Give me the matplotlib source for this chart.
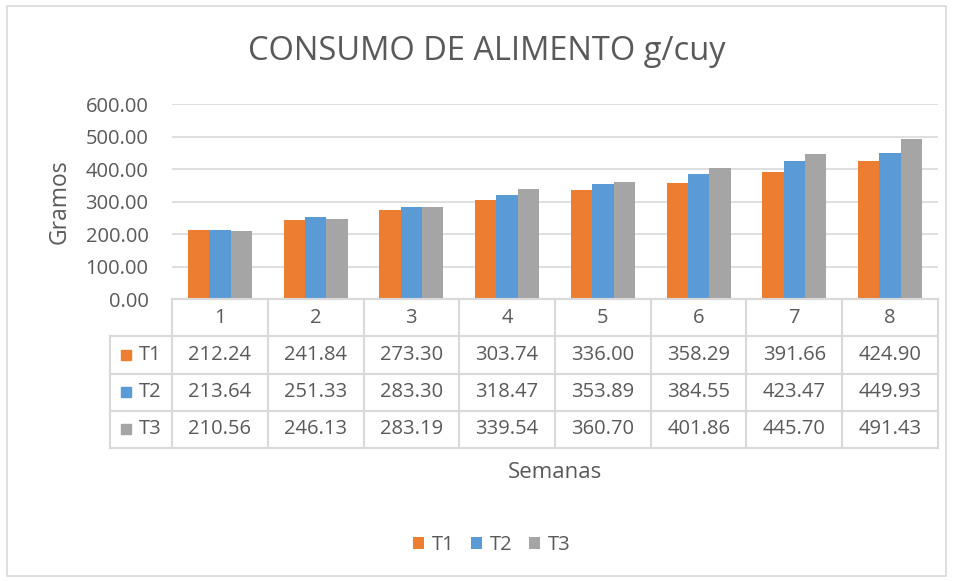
import matplotlib
matplotlib.use("Agg")
import matplotlib.pyplot as plt
from matplotlib.patches import Rectangle
import numpy as np

plt.rcParams['font.family'] = ['Open Sans', 'DejaVu Sans']

semanas = ["1", "2", "3", "4", "5", "6", "7", "8"]
series_names = ["T1", "T2", "T3"]
t1 = [212.24, 241.84, 273.30, 303.74, 336.00, 358.29, 391.66, 424.90]
t2 = [213.64, 251.33, 283.30, 318.47, 353.89, 384.55, 423.47, 449.93]
t3 = [210.56, 246.13, 283.19, 339.54, 360.70, 401.86, 445.70, 491.43]
colors = ["#ED7D31", "#5B9BD5", "#A5A5A5"]
yticks = [0, 100, 200, 300, 400, 500, 600]

W, H = 956, 581
fig = plt.figure(figsize=(W/100, H/100), dpi=100)
txt = "#595959"
grid = "#D9D9D9"
fs = 14.5

def fx(px): return px / W
def fy(py): return 1 - py / H

# frame
fig.add_artist(Rectangle((fx(7), fy(576)), fx(946-7), (576-6)/H, transform=fig.transFigure,
                         fill=False, edgecolor=grid, lw=1.2))

# main axes
x0, x1, ytop, ybot = 172, 938, 104, 299
ax = fig.add_axes([fx(x0), fy(ybot), fx(x1-x0), (ybot-ytop)/H])
n = len(semanas)
x = np.arange(n)
bw = 0.222
data = [t1, t2, t3]
for i, (vals, c) in enumerate(zip(data, colors)):
    ax.bar(x + (i-1)*bw, vals, width=bw, color=c, label=series_names[i], zorder=3)
ax.set_xlim(-0.5, n-0.5)
ax.set_ylim(0, 600)
ax.set_yticks(yticks)
ax.set_yticklabels([f"{v:.2f}" for v in yticks], color=txt, fontsize=fs)
ax.set_xticks([])
ax.tick_params(axis='y', length=0, pad=17)
ax.grid(axis='y', color=grid, lw=1.2, zorder=0)
for s in ["top", "right", "left"]:
    ax.spines[s].set_visible(False)
ax.spines["bottom"].set_color(grid)
ax.spines["bottom"].set_linewidth(1.5)
fig.text(fx(60), fy(202), "Gramos", rotation=90, ha="center", va="center", color=txt, fontsize=16.5)

# table axes
tl = 110
tb = 448
cat_w = (x1 - x0) / n
row_h = (tb - ybot) / 4
tax = fig.add_axes([fx(tl), fy(tb), fx(x1-tl), (tb-ybot)/H])
left_edge = -0.5 - (x0 - tl) / cat_w
tax.set_xlim(left_edge, n-0.5)
tax.set_ylim(4, 0)
tax.axis("off")
lc = grid
lw = 1.5
for k in range(n+1):
    tax.plot([k-0.5, k-0.5], [0, 1], color=lc, lw=lw, clip_on=False)
for j, s in enumerate(semanas):
    tax.text(j, 0.5, s, ha="center", va="center", color=txt, fontsize=fs)
for r in range(4):
    xs = left_edge if r >= 1 else -0.5
    tax.plot([xs, n-0.5], [r, r], color=lc, lw=lw, clip_on=False)
tax.plot([left_edge, n-0.5], [4, 4], color=lc, lw=lw, clip_on=False)
for k in range(n+1):
    tax.plot([k-0.5, k-0.5], [1, 4], color=lc, lw=lw, clip_on=False)
tax.plot([left_edge, left_edge], [1, 4], color=lc, lw=lw, clip_on=False)
sq_w = 10 / cat_w
sq_h = 10 / row_h
for r, (vals, c, nm) in enumerate(zip(data, colors, series_names)):
    yc = r + 1.5
    sx = left_edge + 11 / cat_w
    tax.add_patch(Rectangle((sx, yc - sq_h/2), sq_w, sq_h, color=c, clip_on=False))
    tax.text(left_edge + 29 / cat_w, yc, nm, color=txt, ha="left", va="center", fontsize=fs)
    for j, v in enumerate(vals):
        tax.text(j, yc, f"{v:.2f}", ha="center", va="center", color=txt, fontsize=fs)

fig.text(fx(555), fy(473), "Semanas", ha="center", va="center", color=txt, fontsize=16)
fig.text(fx(487), fy(52), "CONSUMO DE ALIMENTO g/cuy", ha="center", va="center",
         color=txt, fontsize=23.5)

handles, labels = ax.get_legend_handles_labels()
fig.legend(handles, labels, loc="center", bbox_to_anchor=(fx(492), fy(545)), ncol=3,
           frameon=False, fontsize=fs, labelcolor=txt, handlelength=0.55, handleheight=0.55,
           handletextpad=0.4, columnspacing=0.8)

fig.savefig("out.png", dpi=100)
